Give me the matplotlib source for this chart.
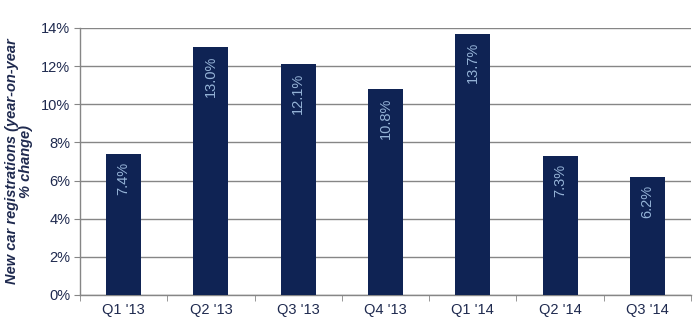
import matplotlib.pyplot as plt
from matplotlib.ticker import FuncFormatter

plt.rcParams.update({'font.family': ['Liberation Sans', 'DejaVu Sans']})

quarters = ["Q1 '13", "Q2 '13", "Q3 '13", "Q4 '13", "Q1 '14", "Q2 '14", "Q3 '14"]
growth = [7.4, 13.0, 12.1, 10.8, 13.7, 7.3, 6.2]

navy = '#0f2354'
text_col = '#1f2a4f'
grid_col = '#868686'

fig = plt.figure(figsize=(6.95, 3.21), dpi=100)
ax = fig.add_axes([0.1151, 0.081, 0.8791, 0.8318])

x = range(len(quarters))
bars = ax.bar(x, growth, width=0.4, color=navy, zorder=3)

for xi, v in zip(x, growth):
    ax.annotate(f'{v:.1f}%', (xi, v), xytext=(0, -6), textcoords='offset points',
                rotation=90, ha='center', va='top', color='#95b3d7',
                fontsize=10.5, zorder=4)

ax.set_xlim(-0.5, len(quarters) - 0.5)
ax.set_ylim(0, 14)
ax.set_yticks(range(0, 15, 2))
ax.yaxis.set_major_formatter(FuncFormatter(lambda v, p: f'{v:.0f}%'))
ax.set_xticks(list(x))
ax.set_xticklabels(quarters)
ax.set_xticks([i + 0.5 for i in range(-1, len(quarters))], minor=True)

ax.grid(axis='y', color=grid_col, linewidth=1, zorder=0)
for s in ['top', 'right']:
    ax.spines[s].set_visible(False)
for s in ['left', 'bottom']:
    ax.spines[s].set_color(grid_col)
    ax.spines[s].set_linewidth(1)

ax.tick_params(axis='x', which='major', length=0, labelsize=10.5, labelcolor=text_col, pad=6)
ax.tick_params(axis='x', which='minor', length=4, color=grid_col, direction='out')
ax.tick_params(axis='y', length=4, color=grid_col, labelsize=10.5, labelcolor=text_col, pad=3)

ax.set_ylabel('New car registrations (year-on-year\n% change)', fontsize=10.5,
              fontweight='bold', fontstyle='italic', color=text_col, linespacing=1.0,
              labelpad=6)

fig.savefig('out.png', dpi=100)
